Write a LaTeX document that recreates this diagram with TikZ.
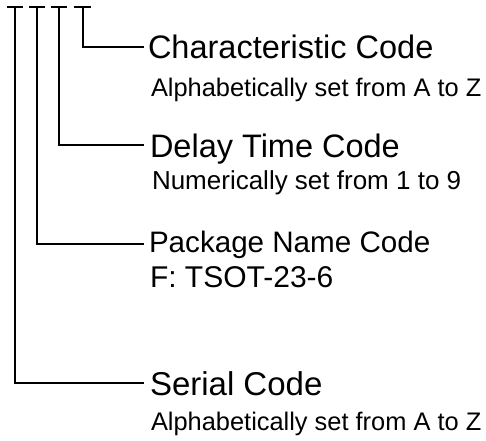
\documentclass[tikz,border=0pt]{standalone}
\usepackage{fontspec}
\setmainfont{Liberation Sans}
\tikzset{
  line/.style={line width=1.5pt},
  lbl/.style={anchor=base west, inner sep=0pt, outer sep=0pt},
}
\begin{document}
\begin{tikzpicture}[x=1pt,y=-1pt]
\useasboundingbox (0,0) rectangle (486,440);
% tops of the T marks
\coordinate (b1l) at (7,7);  \coordinate (b1r) at (23,7); \coordinate (t1) at (15,7);
\coordinate (b2l) at (29,7); \coordinate (b2r) at (45,7); \coordinate (t2) at (37,7);
\coordinate (b3l) at (51,7); \coordinate (b3r) at (67,7); \coordinate (t3) at (59,7);
\coordinate (b4l) at (74,7); \coordinate (b4r) at (91,7); \coordinate (t4) at (83,7);
% line ends
\coordinate (e4) at (144,47);
\coordinate (e3) at (144,145);
\coordinate (e2) at (144,244);
\coordinate (e1) at (144,383);
\draw[line] (b1l) -- (b1r);
\draw[line] (b2l) -- (b2r);
\draw[line] (b3l) -- (b3r);
\draw[line] (b4l) -- (b4r);
\draw[line] (t4) |- (e4);
\draw[line] (t3) |- (e3);
\draw[line] (t2) |- (e2);
\draw[line] (t1) |- (e1);
% labels
\node[lbl] (char) at (148,58) {\fontsize{32.5}{36}\selectfont Characteristic Code};
\node[lbl] (chard) at (151,96) {\fontsize{25.4}{28}\selectfont Alphabetically set from A to Z};
\node[lbl] (delay) at (150,157) {\fontsize{32.5}{36}\selectfont Delay Time Code};
\node[lbl] (delayd) at (152,189) {\fontsize{26}{29}\selectfont Numerically set from 1 to 9};
\node[lbl] (pkg) at (149,252) {\fontsize{29.6}{33}\selectfont Package Name Code};
\node[lbl] (pkgd) at (150,287) {\fontsize{30}{33}\selectfont F: TSOT-23-6};
\node[lbl] (ser) at (150,395) {\fontsize{33}{36}\selectfont Serial Code};
\node[lbl] (serd) at (151,430) {\fontsize{25.4}{28}\selectfont Alphabetically set from A to Z};
\end{tikzpicture}
\end{document}
